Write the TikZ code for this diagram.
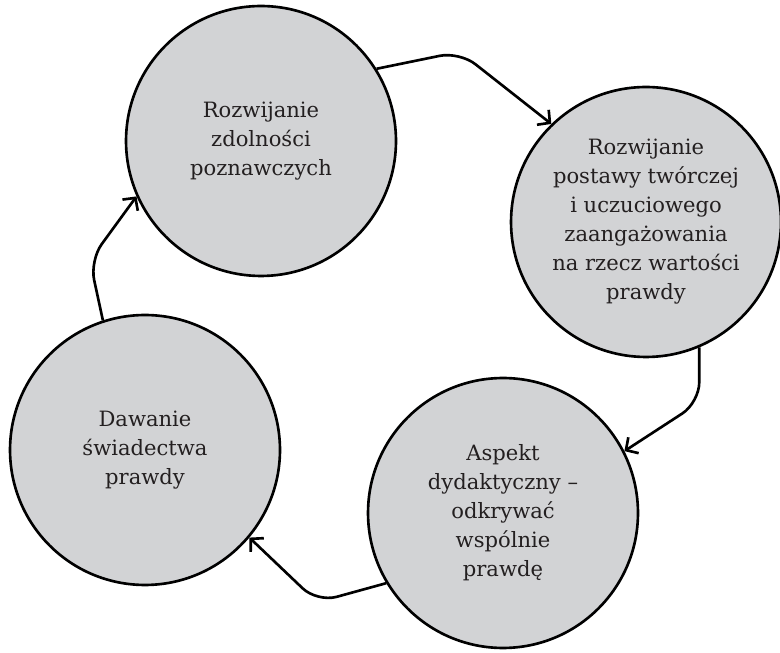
\documentclass[tikz,border=0pt]{standalone}
\usepackage{fontspec}
\setmainfont{DejaVu Serif}
\usepackage{xcolor}
\usepackage{tikz}
\usetikzlibrary{arrows.meta}
\definecolor{kolo}{RGB}{210,211,213}
\definecolor{tekst}{RGB}{35,31,32}

\begin{document}
\begin{tikzpicture}[x=0.02cm, y=0.02cm, line width=1.5pt,
  >={Straight Barb[length=1.8mm, width=3.8mm]},
  etap/.style={circle, draw, fill=kolo, minimum size=5.4cm, inner sep=0pt,
    align=center, text=tekst, font=\fontsize{12}{16.5}\selectfont},
  strzalka/.style={->, rounded corners=0.4cm}]
\useasboundingbox (0,0) rectangle (780,652);
% Etapy
\node[etap] (a) at (261,511) {Rozwijanie\\zdolności\\poznawczych};
\node[etap] (b) at (646,430) {Rozwijanie\\postawy twórczej\\i uczuciowego\\zaangażowania\\na rzecz wartości\\prawdy};
\node[etap] (c) at (503,139) {Aspekt\\dydaktyczny –\\odkrywać\\wspólnie\\prawdę};
\node[etap] (d) at (145,202) {Dawanie\\świadectwa\\prawdy};
% Strzałki
\draw[strzalka] (a.32) -- ++(83,17) -- (b.134);
\draw[strzalka] (b.-67) -- ++(0,-55) -- (c.27);
\draw[strzalka] (c.211) -- ++(-69,-19) -- (d.-40);
\draw[strzalka] (d.108) -- ++(-13,60) -- (a.204);
\end{tikzpicture}
\end{document}
